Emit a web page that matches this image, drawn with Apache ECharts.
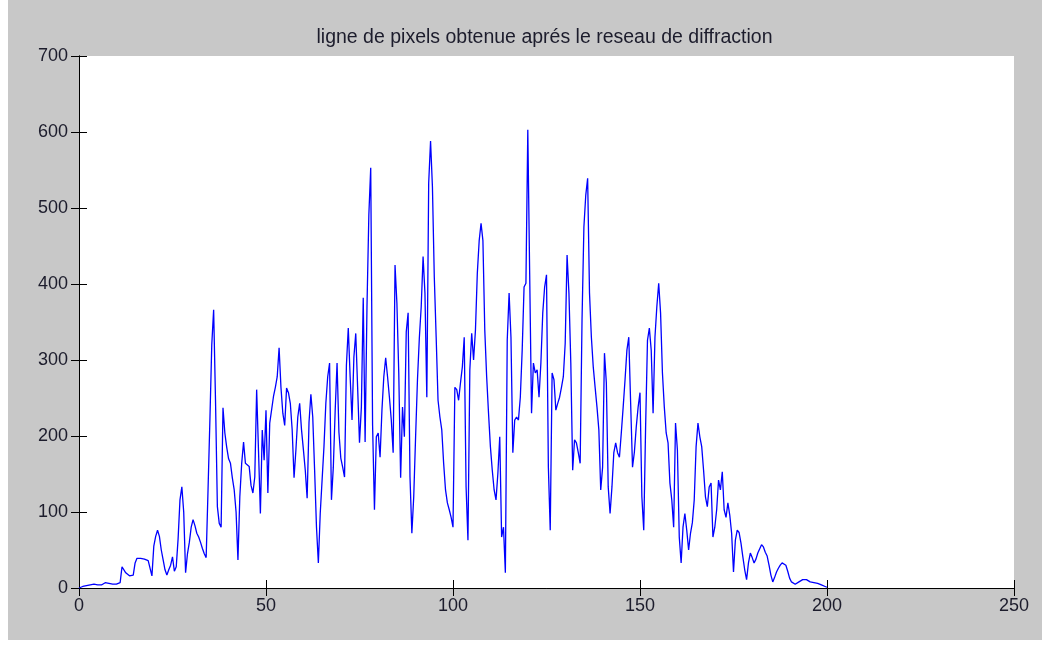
<!DOCTYPE html>
<html>
<head>
<meta charset="utf-8">
<title>ligne de pixels</title>
<script src="https://cdn.jsdelivr.net/npm/echarts@6/dist/echarts.min.js"></script>
<style>
  html, body { margin: 0; padding: 0; background: #ffffff; }
  #fig { position: absolute; left: 8px; top: 0px; width: 1034px; height: 640px; background: #c8c8c8; }
</style>
</head>
<body>
<div id="fig"></div>
<script>
// Intensity profile along one row of pixels behind the diffraction grating
const titleText = 'ligne de pixels obtenue aprés le reseau de diffraction';
const xStart = 0;
const xStep = 0.5;
const intensity = [
  0, 1, 2, 2, 3, 3, 4, 4, 5, 5, 4, 3, 4, 5, 7, 8, 6, 4, 5, 5,
  5, 5, 7, 28, 26, 20, 18, 16, 14, 17, 33, 39, 40, 39, 39, 38, 37, 36, 34, 16,
  55, 68, 76, 68, 50, 37, 24, 17, 24, 30, 41, 22, 28, 65, 116, 133, 100, 20, 45, 60,
  80, 90, 82, 72, 67, 60, 52, 45, 40, 129, 221, 320, 366, 247, 107, 85, 80, 237, 204, 185,
  170, 164, 145, 129, 100, 37, 120, 164, 192, 164, 162, 160, 135, 125, 146, 261, 180, 98, 208, 168,
  234, 125, 217, 217, 252, 264, 278, 316, 264, 230, 214, 263, 257, 243, 208, 145, 182, 225, 243, 208,
  182, 155, 118, 218, 255, 225, 155, 80, 33, 98, 142, 186, 243, 278, 296, 116, 159, 234, 296, 205,
  171, 159, 146, 293, 342, 278, 221, 304, 335, 264, 191, 238, 382, 192, 370, 491, 553, 214, 103, 199,
  204, 172, 234, 278, 303, 278, 251, 221, 178, 425, 375, 283, 145, 238, 199, 337, 362, 146, 72, 120,
  199, 274, 329, 370, 436, 388, 251, 533, 588, 528, 409, 330, 247, 225, 208, 164, 129, 112, 103, 93,
  80, 264, 261, 247, 270, 291, 330, 133, 63, 287, 335, 300, 339, 414, 457, 480, 457, 339, 278, 230,
  186, 155, 129, 116, 151, 199, 67, 80, 20, 326, 388, 330, 178, 221, 225, 221, 251, 313, 396, 401,
  603, 414, 230, 296, 283, 287, 251, 296, 362, 396, 412, 159, 76, 283, 274, 234, 243, 251, 264, 278,
  322, 438, 388, 296, 155, 195, 191, 178, 164, 353, 475, 517, 539, 388, 330, 291, 264, 238, 208, 129,
  159, 309, 270, 133, 98, 133, 178, 191, 178, 172, 204, 238, 274, 313, 330, 243, 159, 179, 212, 238,
  257, 120, 76, 212, 326, 342, 313, 230, 330, 370, 401, 362, 283, 238, 204, 191, 138, 116, 80, 217,
  182, 67, 33, 80, 98, 76, 50, 72, 86, 116, 186, 217, 199, 186, 155, 120, 107, 133, 138, 67,
  80, 103, 142, 129, 153, 103, 93, 112, 96, 72, 21, 63, 76, 73, 59, 41, 24, 11, 33, 46,
  40, 33, 38, 46, 47, 57, 54, 47, 42, 30, 17, 8, 14, 21, 26, 30, 33, 34, 30, 22,
  13, 8, 7, 5, 7, 8, 9, 11, 11, 11, 9, 8, 7, 7, 7, 6, 5, 4, 3, 2,
  1
];
const xTicks = { min: 0, max: 250, interval: 50 };
const yTicks = { min: 0, max: 700, interval: 100 };

const points = intensity.map((v, i) => [xStart + i * xStep, v]);

const textColor = '#1c1c2c';
const fontFamily = '"Liberation Sans", Arial, Helvetica, sans-serif';

const chart = echarts.init(document.getElementById('fig'), null, { renderer: 'canvas' });

const frameAxis = (show) => ({
  axisLine: { show: true, lineStyle: { color: '#000', width: 1 } },
  axisTick: { show: true, inside: true, length: 8, lineStyle: { color: '#000', width: 1 } },
  splitLine: { show: false },
  axisLabel: show
    ? { show: true, color: textColor, fontSize: 18, fontFamily: fontFamily }
    : { show: false }
});

// Title sits roughly centred over the axes box
const gridLeft = 71, gridWidth = 935;

chart.setOption({
  backgroundColor: '#c8c8c8',
  animation: false,
  title: {
    text: titleText,
    left: gridLeft + gridWidth / 2 - 7,
    textAlign: 'center',
    top: 23,
    textStyle: { color: textColor, fontSize: 19.5, fontWeight: 'normal', fontFamily: fontFamily }
  },
  grid: { left: gridLeft, top: 56, width: gridWidth, height: 532, show: true, backgroundColor: '#ffffff', borderWidth: 0 },
  xAxis: [
    Object.assign({ type: 'value', position: 'bottom', min: xTicks.min, max: xTicks.max, interval: xTicks.interval },
      frameAxis(true), { axisLabel: { show: true, color: textColor, fontSize: 18, fontFamily: fontFamily, margin: 9 } }),
    Object.assign({ type: 'value', position: 'top', min: xTicks.min, max: xTicks.max, interval: xTicks.interval },
      frameAxis(false))
  ],
  yAxis: [
    Object.assign({ type: 'value', position: 'left', min: yTicks.min, max: yTicks.max, interval: yTicks.interval },
      frameAxis(true), { axisLabel: { show: true, color: textColor, fontSize: 18, fontFamily: fontFamily, margin: 11 } }),
    Object.assign({ type: 'value', position: 'right', min: yTicks.min, max: yTicks.max, interval: yTicks.interval },
      frameAxis(false))
  ],
  series: [{
    type: 'line',
    data: points,
    xAxisIndex: 0,
    yAxisIndex: 0,
    showSymbol: false,
    symbol: 'none',
    lineStyle: { color: '#0000ff', width: 1.3 },
    z: 3
  }]
});
</script>
</body>
</html>
